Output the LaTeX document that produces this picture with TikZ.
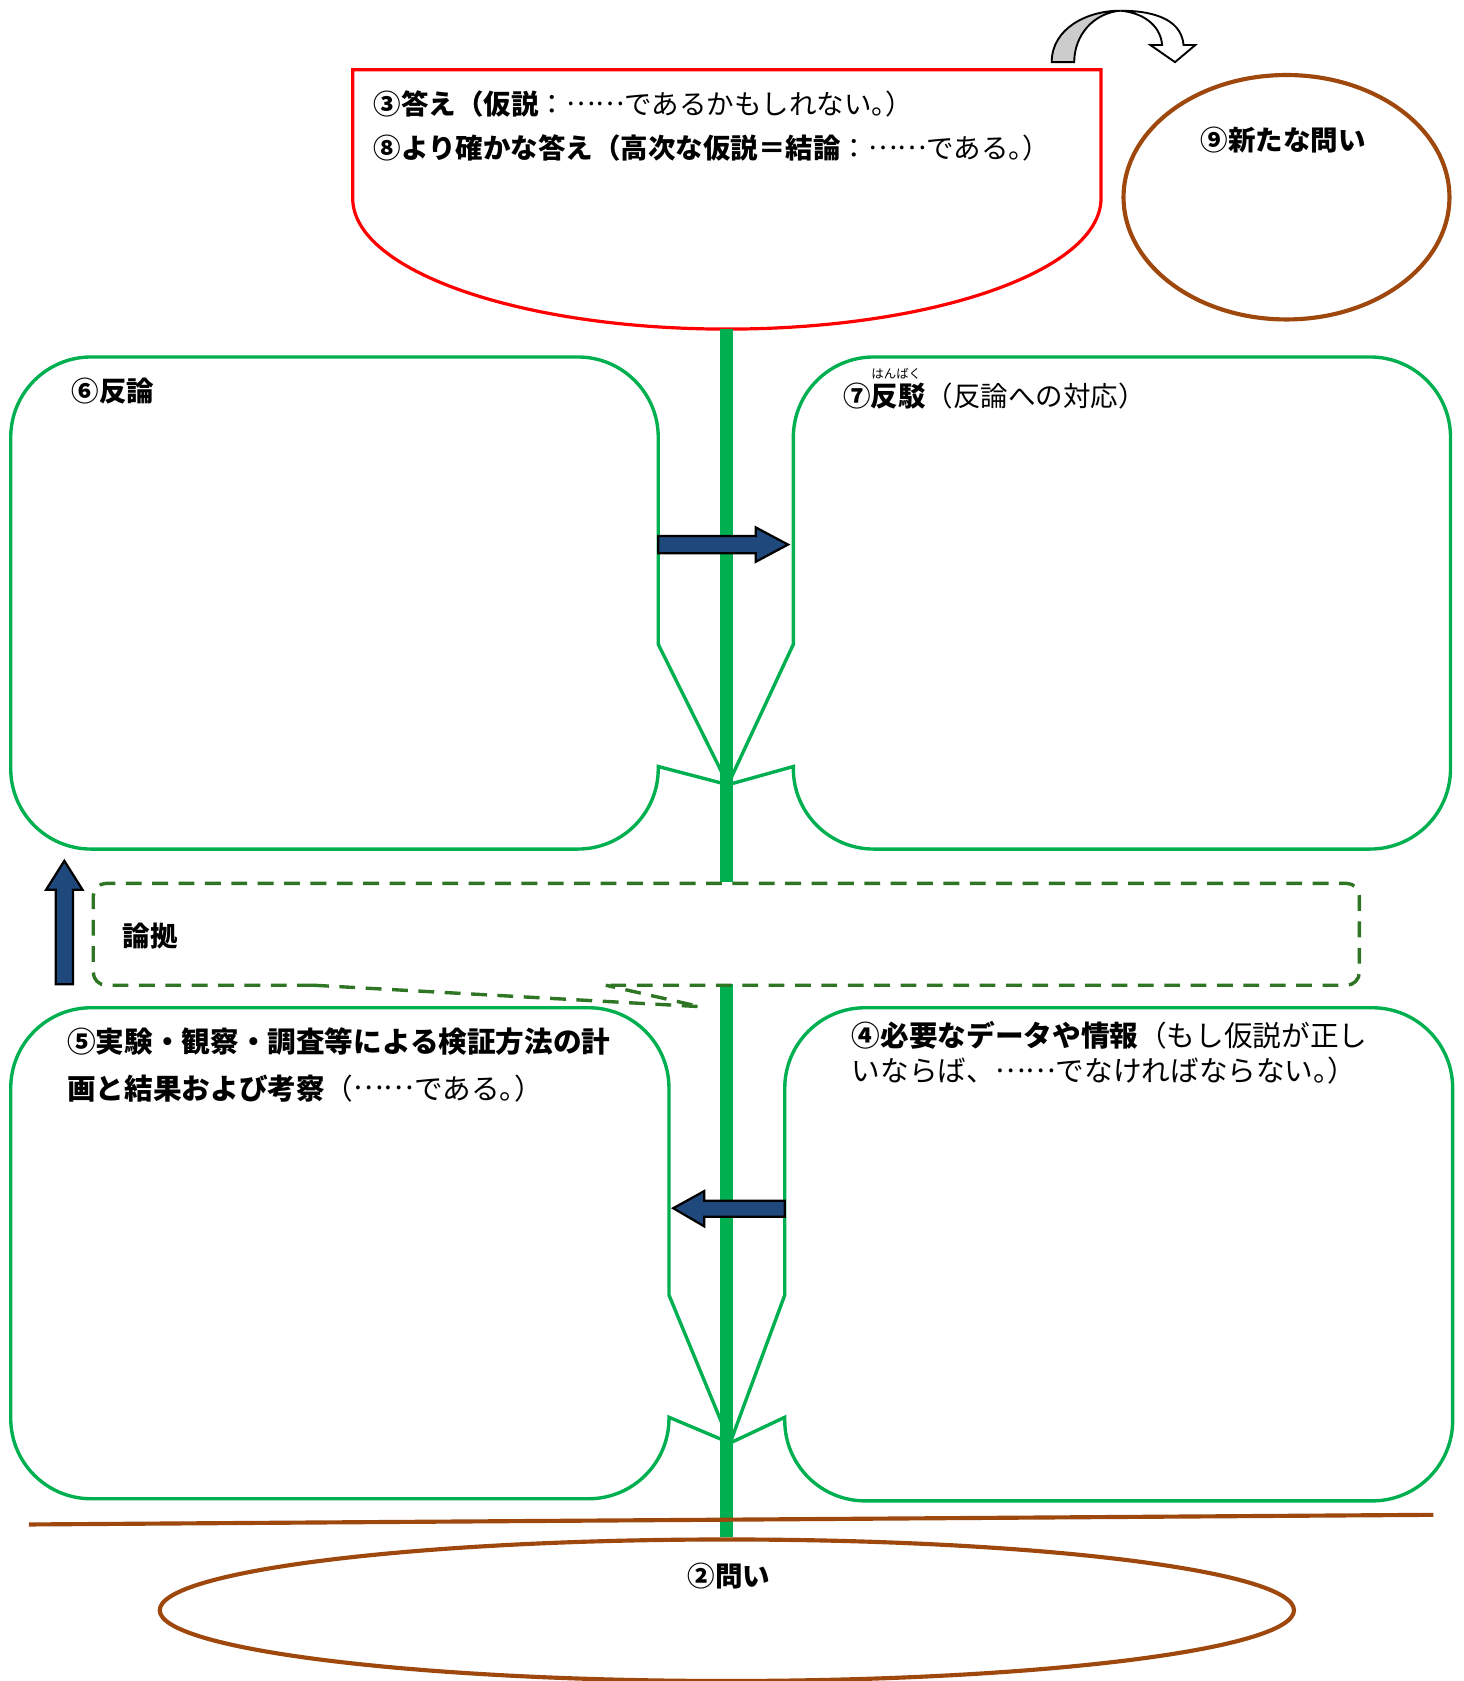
\documentclass[tikz,border=0pt]{standalone}
\usepackage{fontspec}
\newfontfamily\jp{Noto Sans CJK JP}
\usepackage{xcolor,tikz}
\usetikzlibrary{positioning}
\tikzset{>=stealth}
\newcommand{\middots}{\raisebox{0.32em}{……}}
\newcommand{\halfmaru}{{\addfontfeature{RawFeature=+halt}。}}
\definecolor{leafgreen}{RGB}{0,176,80}
\definecolor{soilbrown}{RGB}{158,72,14}
\definecolor{dashgreen}{RGB}{46,117,36}
\definecolor{arrowblue}{RGB}{31,73,125}
\tikzset{
leaf/.style={draw=leafgreen,line width=0.9pt},
stem/.style={draw=leafgreen,line width=3.4pt},
soil/.style={draw=soilbrown,line width=1.1pt},
blockarrow/.style={draw=black,fill=arrowblue,line width=0.6pt},
boxtext/.style={font=\jp\fontsize{7.3}{9}\selectfont,inner sep=0pt,anchor=west},
bigtext/.style={font=\jp\fontsize{7.6}{9}\selectfont,inner sep=0pt,anchor=west}
}

\begin{document}
\begin{tikzpicture}
\useasboundingbox (0,0) rectangle (13.65,15.68);
\draw[red,line width=0.85pt] (3.29,13.83) -- (3.29,15.03) -- (10.27,15.03) -- (10.27,13.83) arc[start angle=0,end angle=-180,x radius=3.49,y radius=1.22] -- cycle;
\draw[fill=gray!40,line width=0.5pt] (9.81,15.10) to[out=90,in=180] (10.45,15.58) to[out=185,in=90] (10.02,15.10) -- cycle;
\draw[fill=white,line width=0.5pt] (10.45,15.58) to[out=0,in=95] (11.04,15.26) -- (11.15,15.26) -- (10.96,15.10) -- (10.73,15.26) -- (10.84,15.26) to[out=95,in=-5] (10.45,15.58) -- cycle;
\draw[soil] (12.00,13.84) ellipse [x radius=1.52,y radius=1.14];
\draw[leaf] (0.85,12.35) -- (5.39,12.35) arc[start angle=90,end angle=0,radius=0.75] -- (6.14,9.67) -- (6.79,8.36) -- (6.14,8.53) -- (6.14,8.51) arc[start angle=0,end angle=-90,radius=0.75] -- (0.85,7.76) arc[start angle=270,end angle=180,radius=0.75] -- (0.10,11.60) arc[start angle=180,end angle=90,radius=0.75] -- cycle;
\draw[leaf] (8.15,12.35) -- (12.78,12.35) arc[start angle=90,end angle=0,radius=0.75] -- (13.53,8.51) arc[start angle=0,end angle=-90,radius=0.75] -- (8.15,7.76) arc[start angle=270,end angle=180,radius=0.75] -- (7.40,8.53) -- (6.79,8.36) -- (7.40,9.67) -- (7.40,11.60) arc[start angle=180,end angle=90,radius=0.75] -- cycle;
\draw[leaf] (0.85,6.28) -- (5.49,6.28) arc[start angle=90,end angle=0,radius=0.75] -- (6.24,3.60) -- (6.81,2.22) -- (6.24,2.46) -- (6.24,2.45) arc[start angle=0,end angle=-90,radius=0.75] -- (0.85,1.70) arc[start angle=270,end angle=180,radius=0.75] -- (0.10,5.53) arc[start angle=180,end angle=90,radius=0.75] -- cycle;
\draw[leaf] (8.07,6.28) -- (12.80,6.28) arc[start angle=90,end angle=0,radius=0.75] -- (13.55,2.43) arc[start angle=0,end angle=-90,radius=0.75] -- (8.07,1.68) arc[start angle=270,end angle=180,radius=0.75] -- (7.32,2.46) -- (6.81,2.22) -- (7.32,3.60) -- (7.32,5.53) arc[start angle=180,end angle=90,radius=0.75] -- cycle;
\foreach \a/\b in {12.61/7.45,6.50/1.34}{
\draw[stem] (6.78,\a) -- (6.78,\b);
};
\draw[dashgreen,line width=0.9pt,dash pattern=on 4.2pt off 2.8pt,rounded corners=0.12cm] (2.92,6.49) -- (0.87,6.49) -- (0.87,7.44) -- (12.68,7.44) -- (12.68,6.49) -- (5.65,6.49);
\draw[dashgreen,line width=0.9pt,dash pattern=on 4.2pt off 2.8pt] (2.92,6.49) -- (6.53,6.29) -- (5.65,6.49);
\draw[soil] (0.27,1.46) -- (13.37,1.55);
\draw[soil] (6.78,0.66) ellipse [x radius=5.29,y radius=0.66];
\draw[blockarrow] (0.52,6.50) -- (0.52,7.38) -- (0.43,7.38) -- (0.60,7.65) -- (0.77,7.38) -- (0.68,7.38) -- (0.68,6.50) -- cycle;
\draw[blockarrow] (6.14,10.52) -- (7.05,10.52) -- (7.05,10.44) -- (7.35,10.60) -- (7.05,10.76) -- (7.05,10.68) -- (6.14,10.68) -- cycle;
\draw[blockarrow] (7.32,4.33) -- (6.57,4.33) -- (6.57,4.24) -- (6.28,4.41) -- (6.57,4.57) -- (6.57,4.48) -- (7.32,4.48) -- cycle;
\node[boxtext] (answer) at (3.48,14.71) {{\bfseries ③答え（仮説}：\middots であるかもしれない\halfmaru ）};
\node[boxtext] (conclusion) at (3.48,14.30) {{\bfseries ⑧より確かな答え（高次な仮説＝結論}：\middots である\halfmaru ）};
\node[boxtext,anchor=center] (newq) at (11.97,14.37) {\bfseries ⑨新たな問い};
\node[boxtext] (objection) at (0.66,12.03) {\bfseries ⑥反論};
\node[boxtext] (rebuttal) at (7.86,11.99) {{\bfseries ⑦反駁}（反論への対応）};
\node[font=\jp\fontsize{3.3}{4}\selectfont,inner sep=0pt] (ruby) at (8.36,12.19) {はんばく};
\node[boxtext] (warrant) at (1.14,6.95) {\bfseries 論拠};
\node[bigtext] (methodA) at (0.62,5.96) {\bfseries ⑤実験・観察・調査等による検証方法の計};
\node[bigtext] (methodB) at (0.62,5.53) {{\bfseries 画と結果および考察}（\middots である\halfmaru ）};
\node[bigtext] (dataA) at (7.94,6.02) {{\bfseries ④必要なデータや情報}（もし仮説が正し};
\node[bigtext] (dataB) at (7.94,5.69) {いならば、\middots でなければならない\halfmaru ）};
\node[boxtext,anchor=center] (question) at (6.80,0.98) {\bfseries ②問い};
\end{tikzpicture}
\end{document}
